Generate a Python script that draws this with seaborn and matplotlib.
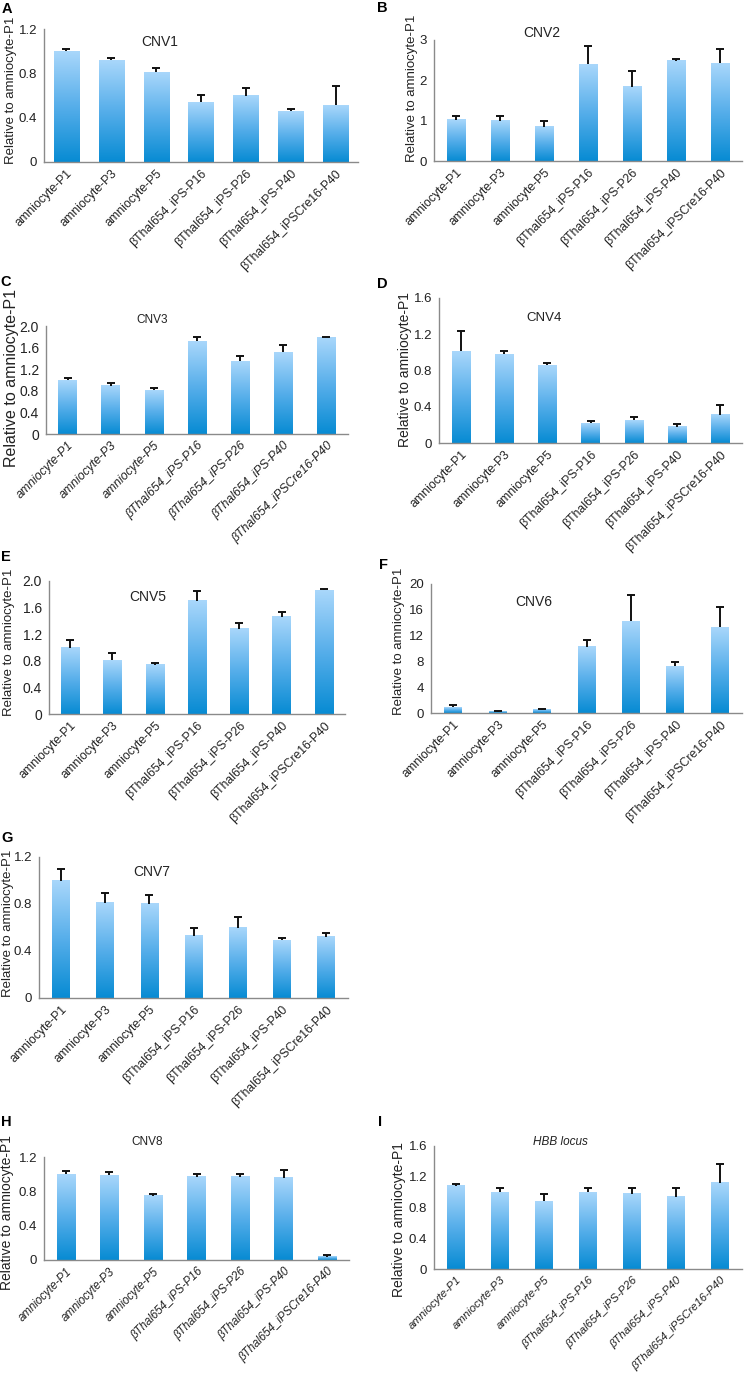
import numpy as np
import pandas as pd
import matplotlib
matplotlib.use("Agg")
import matplotlib.pyplot as plt
from matplotlib.colors import LinearSegmentedColormap
import seaborn as sns

# ---------------- data ----------------
categories = ["amniocyte-P1", "amniocyte-P3", "amniocyte-P5",
              "βThal654_iPS-P16", "βThal654_iPS-P26", "βThal654_iPS-P40",
              "βThal654_iPSCre16-P40"]

cnv1 = [1.00, 0.92, 0.81, 0.54, 0.60, 0.46, 0.51]
cnv1_err = [0.02, 0.02, 0.04, 0.06, 0.07, 0.02, 0.18]
cnv2 = [1.02, 1.00, 0.85, 2.40, 1.84, 2.49, 2.42]
cnv2_err = [0.10, 0.12, 0.15, 0.45, 0.40, 0.05, 0.35]
cnv3 = [1.00, 0.89, 0.81, 1.72, 1.35, 1.51, 1.79]
cnv3_err = [0.03, 0.05, 0.04, 0.08, 0.10, 0.13, 0.01]
cnv4 = [1.01, 0.98, 0.86, 0.22, 0.25, 0.18, 0.31]
cnv4_err = [0.23, 0.04, 0.02, 0.02, 0.04, 0.03, 0.11]
cnv5 = [1.00, 0.81, 0.74, 1.70, 1.28, 1.46, 1.86]
cnv5_err = [0.12, 0.11, 0.02, 0.15, 0.09, 0.08, 0.02]
cnv6 = [0.93, 0.20, 0.52, 10.3, 14.2, 7.25, 13.3]
cnv6_err = [0.37, 0.16, 0.15, 1.0, 4.1, 0.63, 3.2]
cnv7 = [1.00, 0.81, 0.80, 0.53, 0.60, 0.49, 0.52]
cnv7_err = [0.10, 0.08, 0.08, 0.07, 0.09, 0.02, 0.03]
cnv8 = [1.00, 0.99, 0.75, 0.97, 0.97, 0.96, 0.04]
cnv8_err = [0.04, 0.04, 0.02, 0.03, 0.03, 0.09, 0.02]
hbb = [1.08, 1.00, 0.88, 1.00, 0.98, 0.94, 1.12]
hbb_err = [0.03, 0.06, 0.10, 0.06, 0.07, 0.12, 0.24]

yticks_A = [0, 0.4, 0.8, 1.2]
yticks_B = [0, 1, 2, 3]
yticks_C = [0, 0.4, 0.8, 1.2, 1.6, 2.0]
yticks_D = [0, 0.4, 0.8, 1.2, 1.6]
yticks_F = [0, 4, 8, 12, 16, 20]

ylabel = "Relative to amniocyte-P1"

# ---------------- style ----------------
sns.set_style("white")
plt.rcParams["font.family"] = ["Liberation Sans", "DejaVu Sans"]

W, H = 745, 1376
fig = plt.figure(figsize=(W / 100, H / 100), dpi=100)

cmap = LinearSegmentedColormap.from_list("barg", ["#078BD3", "#56AEEA", "#A9D7FB"])
grad = np.linspace(0, 1, 256).reshape(-1, 1)
AX_COLOR = "#8a8a8a"

panels = [
    ("A", "CNV1", cnv1, cnv1_err, yticks_A, ["0", "0.4", "0.8", "1.2"], (44, 29, 358, 162),
     (11, 90), 9.5, (160, 42), 10, False, False, 0.56, (7, 9), 8.8),
    ("B", "CNV2", cnv2, cnv2_err, yticks_B, ["0", "1", "2", "3"], (434, 40, 742, 161),
     (412, 88), 9.5, (542, 33), 10, False, False, 0.42, (382, 8), 8.8),
    ("C", "CNV3", cnv3, cnv3_err, yticks_C, ["0", "0.4", "0.8", "1.2", "1.6", "2.0"], (46, 326, 348, 434),
     (12, 378), 11.5, (152, 320), 8.5, False, True, 0.43, (6, 282), 8.8),
    ("D", "CNV4", cnv4, cnv4_err, yticks_D, ["0", "0.4", "0.8", "1.2", "1.6"], (439, 298, 742, 443),
     (405, 370), 10, (544, 318), 9.5, False, False, 0.42, (382, 284), 8.8),
    ("E", "CNV5", cnv5, cnv5_err, yticks_C, ["0", "0.4", "0.8", "1.2", "1.6", "2.0"], (49, 581, 345, 714),
     (9, 642), 9.5, (148, 597), 10, False, False, 0.43, (6, 557), 8.8),
    ("F", "CNV6", cnv6, cnv6_err, yticks_F, ["0", "4", "8", "12", "16", "20"], (431, 584, 742, 713),
     (399, 641), 9.5, (534, 602), 10, False, False, 0.40, (383, 565), 8.8),
    ("G", "CNV7", cnv7, cnv7_err, yticks_A, ["0", "0.4", "0.8", "1.2"], (39, 857, 348, 998),
     (8, 923), 9.5, (152, 872), 10, False, False, 0.40, (7, 838), 8.8),
    ("H", "CNV8", cnv8, cnv8_err, yticks_A, ["0", "0.4", "0.8", "1.2"], (44, 1157, 349, 1260),
     (7, 1213), 10, (147, 1142), 8.5, False, True, 0.42, (6, 1122), 8.3),
    ("I", "HBB locus", hbb, hbb_err, yticks_D, ["0", "0.4", "0.8", "1.2", "1.6"], (434, 1146, 742, 1269),
     (399, 1220), 10, (560, 1142), 8.5, True, True, 0.39, (380, 1122), 8.2),
]

x_pos = np.arange(len(categories))

for (letter, title, vals, errs, yt, ytl, box, ylpos, ylsize, tpos, tsize,
     titalic, xitalic, bw, lpos, xfs) in panels:
    L, T, R, B = box
    ax = fig.add_axes([L / W, 1 - B / H, (R - L) / W, (B - T) / H])
    df = pd.DataFrame({"cat": categories, "val": vals})
    sns.barplot(data=df, x="cat", y="val", ax=ax, color="#4aa8e8", width=bw,
                errorbar=None, zorder=2)
    for p in list(ax.patches):
        x0, y0 = p.get_x(), p.get_y()
        w, h = p.get_width(), p.get_height()
        ax.imshow(grad, extent=[x0, x0 + w, y0, y0 + h], origin="lower",
                  cmap=cmap, aspect="auto", zorder=2, interpolation="bilinear")
        p.set_facecolor("none")
        p.set_edgecolor("none")
    cont = ax.errorbar(x_pos, vals, yerr=[np.zeros(len(vals)), errs], fmt="none",
                       ecolor="#111111", elinewidth=1.4, capsize=3, capthick=1.4, zorder=3)
    if len(cont[1]) == 2:
        cont[1][0].set_visible(False)
    ax.set_xlim(-0.5, len(categories) - 0.5)
    ax.set_ylim(0, yt[-1])
    ax.set_aspect("auto")
    ax.set_yticks(yt)
    ax.set_yticklabels(ytl, fontsize=10 if letter in "CE" else 9.5, color="#222222")
    ax.set_xticks(x_pos)
    ax.set_xticklabels(categories, rotation=45, ha="right", rotation_mode="anchor",
                       fontsize=xfs, color="#222222",
                       style="italic" if xitalic else "normal")
    ax.set_xticks(np.arange(-0.5, len(categories), 1.0), minor=True)
    ax.tick_params(axis="x", which="major", length=0, pad=4)
    ax.tick_params(axis="x", which="minor", length=3.5, width=0.8, color=AX_COLOR, direction="out")
    ax.tick_params(axis="y", which="major", length=3, width=0.8, color=AX_COLOR,
                   direction="out", pad=2)
    ax.set_xlabel("")
    ax.set_ylabel("")
    sns.despine(ax=ax)
    for s in ["left", "bottom"]:
        ax.spines[s].set_color(AX_COLOR)
        ax.spines[s].set_linewidth(1.0)
    ax.patch.set_alpha(0)

    fig.text(ylpos[0] / W, 1 - ylpos[1] / H, ylabel, rotation=90, ha="center",
             va="center", fontsize=ylsize, color="#222222")
    fig.text(tpos[0] / W, 1 - tpos[1] / H, title, ha="center", va="center",
             fontsize=tsize, color="#222222", style="italic" if titalic else "normal")
    fig.text(lpos[0] / W, 1 - lpos[1] / H, letter, ha="center", va="center",
             fontsize=10.5, fontweight="bold", color="black")

fig.savefig("out.png", dpi=100, facecolor="white")
